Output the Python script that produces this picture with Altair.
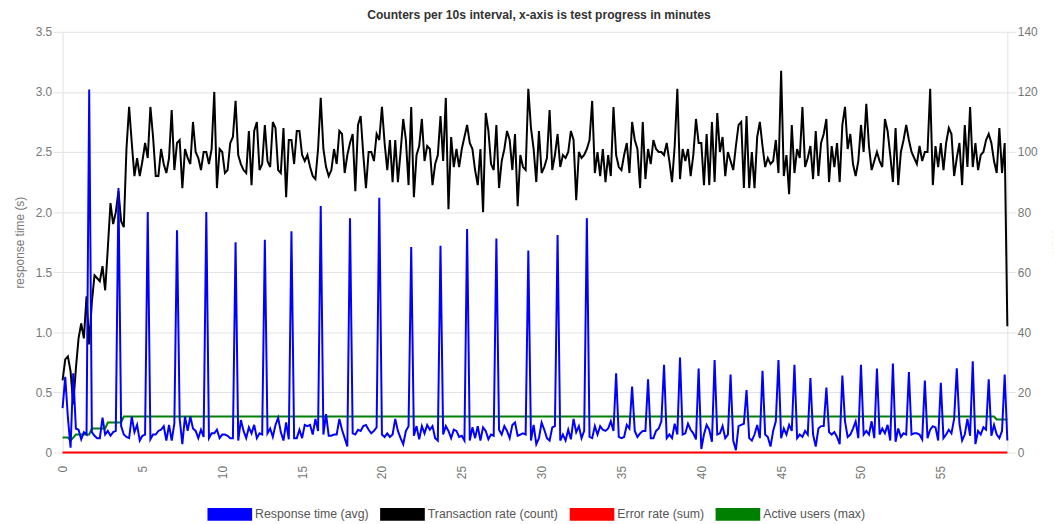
import altair as alt
import pandas as pd

# ---- data (one sample every 10 s) ----
resp_time = [
    0.37, 0.63, 0.29, 0.04, 0.66, 0.20, 0.19, 0.11, 0.17, 0.15,
    3.02, 0.17, 0.14, 0.12, 0.12, 0.29, 0.15, 0.18, 0.14, 0.17,
    0.18, 2.20, 0.22, 0.15, 0.13, 0.12, 0.30, 0.17, 0.23, 0.10,
    0.14, 0.15, 2.00, 0.11, 0.15, 0.15, 0.18, 0.19, 0.22, 0.10,
    0.23, 0.10, 0.24, 1.85, 0.28, 0.07, 0.30, 0.18, 0.30, 0.20,
    0.18, 0.12, 0.19, 0.13, 2.00, 0.12, 0.16, 0.16, 0.19, 0.12,
    0.15, 0.15, 0.14, 0.12, 0.12, 1.75, 0.10, 0.27, 0.18, 0.12,
    0.21, 0.16, 0.23, 0.12, 0.16, 0.15, 1.77, 0.16, 0.20, 0.13,
    0.23, 0.29, 0.17, 0.10, 0.25, 0.11, 1.84, 0.12, 0.12, 0.19,
    0.12, 0.23, 0.22, 0.23, 0.15, 0.28, 0.18, 2.05, 0.15, 0.32,
    0.14, 0.14, 0.15, 0.15, 0.28, 0.19, 0.12, 0.05, 1.95, 0.16,
    0.15, 0.19, 0.18, 0.22, 0.23, 0.19, 0.16, 0.18, 0.21, 2.12,
    0.15, 0.13, 0.16, 0.13, 0.15, 0.28, 0.18, 0.12, 0.07, 0.18,
    0.22, 1.71, 0.14, 0.22, 0.11, 0.22, 0.16, 0.23, 0.19, 0.22,
    0.12, 0.10, 1.72, 0.15, 0.22, 0.18, 0.12, 0.19, 0.18, 0.13,
    0.14, 0.10, 1.86, 0.10, 0.21, 0.12, 0.22, 0.10, 0.21, 0.18,
    0.11, 0.15, 0.14, 1.78, 0.19, 0.15, 0.22, 0.18, 0.12, 0.23,
    0.25, 0.14, 0.15, 0.16, 0.15, 1.68, 0.10, 0.23, 0.07, 0.12,
    0.25, 0.19, 0.12, 0.10, 0.21, 0.22, 1.81, 0.10, 0.15, 0.10,
    0.19, 0.11, 0.28, 0.17, 0.22, 0.12, 0.18, 1.95, 0.13, 0.12,
    0.22, 0.15, 0.22, 0.19, 0.18, 0.20, 0.26, 0.18, 0.66, 0.13,
    0.12, 0.13, 0.23, 0.20, 0.55, 0.18, 0.13, 0.16, 0.18, 0.18,
    0.61, 0.12, 0.12, 0.18, 0.20, 0.26, 0.73, 0.12, 0.15, 0.12,
    0.24, 0.15, 0.79, 0.15, 0.16, 0.24, 0.19, 0.16, 0.11, 0.70,
    0.03, 0.15, 0.23, 0.19, 0.09, 0.77, 0.15, 0.16, 0.22, 0.12,
    0.15, 0.65, 0.10, 0.02, 0.22, 0.23, 0.24, 0.52, 0.12, 0.10,
    0.15, 0.23, 0.12, 0.68, 0.15, 0.13, 0.05, 0.18, 0.26, 0.77,
    0.12, 0.20, 0.15, 0.23, 0.18, 0.73, 0.12, 0.15, 0.13, 0.18,
    0.15, 0.62, 0.15, 0.05, 0.20, 0.22, 0.22, 0.54, 0.17, 0.15,
    0.17, 0.13, 0.07, 0.64, 0.26, 0.13, 0.15, 0.20, 0.26, 0.12,
    0.73, 0.15, 0.18, 0.15, 0.26, 0.12, 0.70, 0.15, 0.20, 0.16,
    0.23, 0.10, 0.74, 0.09, 0.20, 0.13, 0.16, 0.15, 0.67, 0.15,
    0.16, 0.16, 0.15, 0.11, 0.60, 0.12, 0.19, 0.22, 0.21, 0.10,
    0.58, 0.12, 0.15, 0.19, 0.16, 0.28, 0.70, 0.24, 0.10, 0.15,
    0.28, 0.14, 0.76, 0.07, 0.18, 0.15, 0.21, 0.19, 0.61, 0.14,
    0.23, 0.15, 0.12, 0.18, 0.65, 0.10,
]

tx_rate = [
    24, 31, 32, 27, 16, 28, 38, 43, 38, 52,
    36, 50, 59, 58, 57, 62, 54, 68, 83, 76,
    80, 87, 77, 75, 101, 115, 103, 92, 98, 92,
    97, 103, 98, 115, 105, 92, 92, 101, 96, 93,
    98, 114, 94, 103, 104, 88, 101, 98, 96, 110,
    100, 98, 94, 100, 100, 96, 101, 120, 88, 101,
    100, 93, 94, 103, 105, 117, 99, 96, 94, 93,
    107, 89, 107, 110, 94, 96, 109, 97, 95, 110,
    108, 94, 93, 108, 85, 104, 104, 96, 107, 107,
    99, 97, 99, 95, 92, 91, 101, 118, 101, 95,
    92, 94, 101, 96, 107, 106, 93, 99, 103, 106,
    87, 109, 112, 99, 88, 100, 100, 97, 106, 104,
    115, 103, 94, 104, 90, 104, 90, 100, 111, 104,
    89, 115, 85, 99, 102, 111, 97, 102, 101, 89,
    96, 99, 112, 97, 118, 81, 105, 95, 101, 95,
    101, 105, 109, 103, 101, 94, 89, 101, 80, 113,
    107, 96, 94, 109, 88, 97, 101, 107, 104, 94,
    106, 82, 99, 95, 94, 121, 108, 101, 90, 107,
    93, 95, 98, 114, 94, 99, 106, 95, 99, 98,
    100, 107, 104, 84, 100, 98, 99, 101, 104, 117,
    93, 100, 92, 101, 90, 99, 92, 115, 99, 95,
    94, 99, 103, 93, 110, 104, 101, 88, 110, 91,
    101, 96, 104, 101, 100, 100, 99, 103, 97, 90,
    102, 121, 91, 101, 97, 101, 92, 99, 111, 103,
    103, 89, 106, 89, 110, 90, 113, 100, 105, 92,
    100, 97, 94, 102, 109, 110, 88, 112, 88, 100,
    88, 105, 110, 102, 95, 98, 96, 97, 104, 93,
    127, 92, 99, 86, 109, 93, 101, 98, 115, 95,
    98, 102, 91, 107, 92, 103, 106, 111, 90, 102,
    95, 103, 90, 109, 115, 101, 106, 96, 92, 97,
    109, 100, 116, 102, 94, 97, 100, 97, 95, 111,
    107, 99, 90, 108, 89, 100, 104, 109, 104, 100,
    98, 96, 102, 97, 100, 100, 121, 89, 102, 95,
    103, 94, 103, 108, 106, 92, 98, 103, 89, 109,
    95, 115, 95, 103, 94, 99, 100, 104, 106, 103,
    97, 93, 108, 93, 103, 42,
]

err_rate = [
    0, 0, 0, 0, 0, 0, 0, 0, 0, 0, 0, 0, 0, 0, 0, 0, 0, 0, 0, 0,
    0, 0, 0, 0, 0, 0, 0, 0, 0, 0, 0, 0, 0, 0, 0, 0, 0, 0, 0, 0,
    0, 0, 0, 0, 0, 0, 0, 0, 0, 0, 0, 0, 0, 0, 0, 0, 0, 0, 0, 0,
    0, 0, 0, 0, 0, 0, 0, 0, 0, 0, 0, 0, 0, 0, 0, 0, 0, 0, 0, 0,
    0, 0, 0, 0, 0, 0, 0, 0, 0, 0, 0, 0, 0, 0, 0, 0, 0, 0, 0, 0,
    0, 0, 0, 0, 0, 0, 0, 0, 0, 0, 0, 0, 0, 0, 0, 0, 0, 0, 0, 0,
    0, 0, 0, 0, 0, 0, 0, 0, 0, 0, 0, 0, 0, 0, 0, 0, 0, 0, 0, 0,
    0, 0, 0, 0, 0, 0, 0, 0, 0, 0, 0, 0, 0, 0, 0, 0, 0, 0, 0, 0,
    0, 0, 0, 0, 0, 0, 0, 0, 0, 0, 0, 0, 0, 0, 0, 0, 0, 0, 0, 0,
    0, 0, 0, 0, 0, 0, 0, 0, 0, 0, 0, 0, 0, 0, 0, 0, 0, 0, 0, 0,
    0, 0, 0, 0, 0, 0, 0, 0, 0, 0, 0, 0, 0, 0, 0, 0, 0, 0, 0, 0,
    0, 0, 0, 0, 0, 0, 0, 0, 0, 0, 0, 0, 0, 0, 0, 0, 0, 0, 0, 0,
    0, 0, 0, 0, 0, 0, 0, 0, 0, 0, 0, 0, 0, 0, 0, 0, 0, 0, 0, 0,
    0, 0, 0, 0, 0, 0, 0, 0, 0, 0, 0, 0, 0, 0, 0, 0, 0, 0, 0, 0,
    0, 0, 0, 0, 0, 0, 0, 0, 0, 0, 0, 0, 0, 0, 0, 0, 0, 0, 0, 0,
    0, 0, 0, 0, 0, 0, 0, 0, 0, 0, 0, 0, 0, 0, 0, 0, 0, 0, 0, 0,
    0, 0, 0, 0, 0, 0, 0, 0, 0, 0, 0, 0, 0, 0, 0, 0, 0, 0, 0, 0,
    0, 0, 0, 0, 0, 0, 0, 0, 0, 0, 0, 0, 0, 0, 0, 0,
]

active_users = [
    5, 5, 5, 4, 5, 6, 6, 6, 6, 6, 6, 8, 8, 8, 8, 8, 8, 10, 10, 10,
    10, 10, 10, 12, 12, 12, 12, 12, 12, 12, 12, 12, 12, 12, 12, 12, 12, 12, 12, 12,
    12, 12, 12, 12, 12, 12, 12, 12, 12, 12, 12, 12, 12, 12, 12, 12, 12, 12, 12, 12,
    12, 12, 12, 12, 12, 12, 12, 12, 12, 12, 12, 12, 12, 12, 12, 12, 12, 12, 12, 12,
    12, 12, 12, 12, 12, 12, 12, 12, 12, 12, 12, 12, 12, 12, 12, 12, 12, 12, 12, 12,
    12, 12, 12, 12, 12, 12, 12, 12, 12, 12, 12, 12, 12, 12, 12, 12, 12, 12, 12, 12,
    12, 12, 12, 12, 12, 12, 12, 12, 12, 12, 12, 12, 12, 12, 12, 12, 12, 12, 12, 12,
    12, 12, 12, 12, 12, 12, 12, 12, 12, 12, 12, 12, 12, 12, 12, 12, 12, 12, 12, 12,
    12, 12, 12, 12, 12, 12, 12, 12, 12, 12, 12, 12, 12, 12, 12, 12, 12, 12, 12, 12,
    12, 12, 12, 12, 12, 12, 12, 12, 12, 12, 12, 12, 12, 12, 12, 12, 12, 12, 12, 12,
    12, 12, 12, 12, 12, 12, 12, 12, 12, 12, 12, 12, 12, 12, 12, 12, 12, 12, 12, 12,
    12, 12, 12, 12, 12, 12, 12, 12, 12, 12, 12, 12, 12, 12, 12, 12, 12, 12, 12, 12,
    12, 12, 12, 12, 12, 12, 12, 12, 12, 12, 12, 12, 12, 12, 12, 12, 12, 12, 12, 12,
    12, 12, 12, 12, 12, 12, 12, 12, 12, 12, 12, 12, 12, 12, 12, 12, 12, 12, 12, 12,
    12, 12, 12, 12, 12, 12, 12, 12, 12, 12, 12, 12, 12, 12, 12, 12, 12, 12, 12, 12,
    12, 12, 12, 12, 12, 12, 12, 12, 12, 12, 12, 12, 12, 12, 12, 12, 12, 12, 12, 12,
    12, 12, 12, 12, 12, 12, 12, 12, 12, 12, 12, 12, 12, 12, 12, 12, 12, 12, 12, 12,
    12, 12, 12, 12, 12, 12, 12, 12, 12, 12, 12, 11, 11, 11, 11, 11,
]

series_names = ["Response time (avg)", "Transaction rate (count)",
                "Error rate (sum)", "Active users (max)"]
series_colors = ["#0000ff", "#000000", "#ff0000", "#008000"]

left_ticks = [0, 0.5, 1.0, 1.5, 2.0, 2.5, 3.0, 3.5]
right_ticks = [0, 20, 40, 60, 80, 100, 120, 140]
x_ticks = [0, 5, 10, 15, 20, 25, 30, 35, 40, 45, 50, 55]

title_text = "Counters per 10s interval, x-axis is test progress in minutes"

# ---- tables ----
N = len(resp_time)
minutes = [i * 10 / 60 for i in range(N)]

left_df = pd.DataFrame({
    "t": minutes + minutes,
    "v": err_rate + resp_time,
    "series": [series_names[2]] * N + [series_names[0]] * N,
})
right_df = pd.DataFrame({
    "t": minutes + minutes,
    "v": active_users + tx_rate,
    "series": [series_names[3]] * N + [series_names[1]] * N,
})

FONT = "Liberation Sans"
GRID = "#e3e3e3"
LABEL = "#777777"

# wide flat legend swatch: a thick stroke slightly longer than the unit symbol
SWATCH = "M-1.1842,0H1.1842"

color = alt.Color(
    "series:N",
    scale=alt.Scale(domain=series_names, range=series_colors),
    legend=alt.Legend(
        orient="none", legendX=143, legendY=460.5, direction="horizontal",
        title=None, symbolType=SWATCH, symbolSize=1444, symbolStrokeWidth=13,
        symbolOffset=0, labelOffset=0, columnPadding=-15, padding=0,
        labelFont=FONT, labelFontSize=12.4, labelColor="#555555",
        symbolOpacity=1,
    ),
)

x = alt.X(
    "t:Q",
    scale=alt.Scale(nice=False, zero=True),
    axis=alt.Axis(
        values=x_ticks, labelAngle=270, title=None, grid=False, ticks=False,
        tickSize=0, labelPadding=13, labelColor=LABEL, labelFontSize=12,
        labelFont=FONT, domainColor=GRID,
    ),
)

right = alt.Chart(right_df).mark_line(strokeWidth=2).encode(
    x=x,
    y=alt.Y(
        "v:Q",
        scale=alt.Scale(domain=[0, 140], nice=False),
        axis=alt.Axis(
            orient="right", values=right_ticks, format="d", grid=False,
            tickSize=8, tickColor=GRID, domainColor=GRID, labelPadding=2,
            labelColor=LABEL, labelFontSize=12, labelFont=FONT,
            title="count", titleFontWeight="normal", titleColor=LABEL,
            titleFontSize=12, titleFont=FONT, titlePadding=12,
        ),
    ),
    color=color,
)

left = alt.Chart(left_df).mark_line(strokeWidth=2).encode(
    x=x,
    y=alt.Y(
        "v:Q",
        scale=alt.Scale(domain=[0, 3.5], nice=False),
        axis=alt.Axis(
            orient="left", values=left_ticks,
            labelExpr="datum.value == 0 ? '0' : format(datum.value, '.1f')",
            grid=True, gridColor=GRID, tickSize=10, tickColor=GRID,
            domainColor=GRID, labelPadding=1, labelColor=LABEL,
            labelFontSize=12, labelFont=FONT,
            title="response time (s)", titleFontWeight="normal",
            titleColor=LABEL, titleFontSize=12, titleFont=FONT, titlePadding=9,
        ),
    ),
    color=color,
)

chart = (
    alt.layer(right, left)
    .resolve_scale(y="independent")
    .properties(
        width=952,
        height=424,
        autosize=alt.AutoSizeParams(type="none"),
        padding={"left": 55, "top": 22, "right": 46, "bottom": 70},
        title=alt.TitleParams(
            text=title_text, fontSize=12.2, fontWeight="bold", color="#333333",
            font=FONT, frame="group", anchor="middle", baseline="bottom",
            offset=0, dy=8, dx=4,
        ),
    )
    .configure_view(stroke=None)
)

chart.save("out.html", embed_options={"renderer": "svg", "actions": False})
